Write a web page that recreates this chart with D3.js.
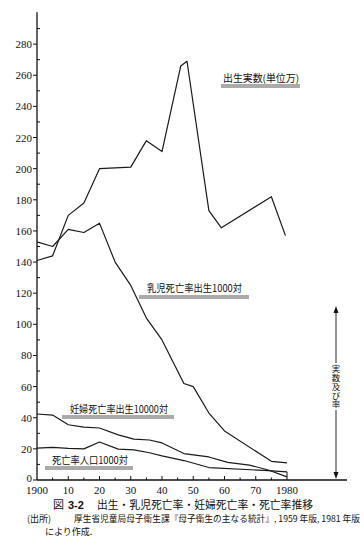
<!DOCTYPE html>
<html lang="ja">
<head>
<meta charset="utf-8">
<script src="https://cdn.jsdelivr.net/npm/d3@7"></script>
<style>
  body { margin: 0; background: #fff; }
  .num { font-family: "Liberation Serif", "DejaVu Serif", serif; font-size: 11px; fill: #111; }
  .jp { font-family: "Noto Sans CJK JP", sans-serif; fill: #111; }
  .series { fill: none; stroke: #1a1a1a; stroke-width: 1.2px; stroke-linejoin: round; }
</style>
</head>
<body>
<div id="chart"></div>
<script>
// values
var birthYears  = [1900, 1905, 1910, 1915, 1920, 1930, 1935, 1940, 1946, 1948, 1955, 1959, 1975, 1979.5];
var birthValues = [141, 144, 170, 178, 200, 201, 218, 211, 266, 269, 173, 162, 182, 157];

var infantYears  = [1900, 1905, 1910, 1915, 1920, 1925, 1930, 1935, 1940, 1947, 1950, 1955, 1960, 1975, 1980];
var infantValues = [153, 150, 161, 159, 165, 140, 125, 104, 90, 62, 60, 43, 31.5, 12, 11];

var maternalYears  = [1900, 1905, 1910, 1915, 1920, 1926, 1931, 1936, 1940, 1947, 1955, 1961, 1968, 1974, 1980];
var maternalValues = [42.4, 41.7, 35.5, 34, 33.4, 29, 26.3, 25.7, 23.8, 17, 14.8, 11.3, 9.6, 6.4, 2];

var deathYears  = [1900, 1905, 1910, 1915, 1920, 1926, 1931, 1936, 1940, 1947, 1955, 1974, 1980];
var deathValues = [20.5, 21, 20.3, 20, 24.4, 19.8, 19.3, 17.5, 15.5, 12.5, 8, 6, 5.2];

var yTicks = d3.range(0, 281, 20);
var xTicks = [1900, 1910, 1920, 1930, 1940, 1950, 1960, 1970, 1980];
var xTickLabels = ["1900", "10", "20", "30", "40", "50", "60", "70", "1980"];

var seriesLabels = ["出生実数(単位万)", "乳児死亡率出生1000対", "妊婦死亡率出生10000対", "死亡率人口1000対"];
var axisLabel = "実数及び率";
var captionNo = "3-2";
var captionText = "出生・乳児死亡率・妊婦死亡率・死亡率推移";
var sourceLine1 = "厚生省児童局母子衛生課『母子衛生の主なる統計』, 1959 年版, 1981 年版";
var sourceLine2 = "により作成.";

var width = 364, height = 547;

var svg = d3.select("#chart").append("svg")
    .attr("width", width)
    .attr("height", height);

svg.append("rect").attr("width", width).attr("height", height).attr("fill", "#fff");

var x = d3.scaleLinear().domain([1900, 1980]).range([37, 287]);
var y = d3.scaleLinear().domain([0, 300]).range([480, 13]);

// y axis
svg.append("line")
    .attr("x1", x(1900)).attr("x2", x(1900))
    .attr("y1", y(0)).attr("y2", y(300.5))
    .attr("stroke", "#111").attr("stroke-width", 1.3);

svg.selectAll(".ymajor").data(yTicks).enter().append("line")
    .attr("x1", x(1900) - 4).attr("x2", x(1900))
    .attr("y1", function(d) { return y(d); })
    .attr("y2", function(d) { return y(d); })
    .attr("stroke", "#111");

svg.selectAll(".yminor").data(d3.range(10, 300, 20)).enter().append("line")
    .attr("x1", x(1900)).attr("x2", x(1900) + 3)
    .attr("y1", function(d) { return y(d); })
    .attr("y2", function(d) { return y(d); })
    .attr("stroke", "#111");

svg.selectAll(".ylab").data(yTicks).enter().append("text")
    .attr("class", "num")
    .attr("x", x(1900) - 5)
    .attr("y", function(d) { return d === 0 ? y(d) + 2 : y(d) + 4; })
    .attr("text-anchor", "end")
    .text(function(d) { return d; });

// x axis
svg.append("line")
    .attr("x1", x(1900)).attr("x2", 347)
    .attr("y1", y(0)).attr("y2", y(0))
    .attr("stroke", "#111").attr("stroke-width", 1.3);

svg.selectAll(".xminor").data(d3.range(1905, 1980, 5)).enter().append("line")
    .attr("x1", function(d) { return x(d); })
    .attr("x2", function(d) { return x(d); })
    .attr("y1", y(0))
    .attr("y2", function(d) { return y(0) - (d % 10 === 0 ? 4 : 2.5); })
    .attr("stroke", "#111");

svg.append("line")
    .attr("x1", x(1980)).attr("x2", x(1980))
    .attr("y1", y(0)).attr("y2", y(0) - 8)
    .attr("stroke", "#111");

svg.selectAll(".xlab").data(xTicks).enter().append("text")
    .attr("class", "num")
    .attr("x", function(d) { return x(d); })
    .attr("y", 493.5)
    .attr("font-size", 10.5)
    .attr("text-anchor", "middle")
    .text(function(d, i) { return xTickLabels[i]; });

// the four series
var line = d3.line()
    .x(function(d) { return x(d[0]); })
    .y(function(d) { return y(d[1]); });

function pairs(xs, vs) { return xs.map(function(v, i) { return [v, vs[i]]; }); }

[[birthYears, birthValues], [infantYears, infantValues],
 [maternalYears, maternalValues], [deathYears, deathValues]].forEach(function(s) {
    svg.append("path").attr("class", "series").attr("d", line(pairs(s[0], s[1])));
});

// labels with double underline
var labelPos = [
    {x: 223, y: 82, len: 76, u1: 221, u2: 300, uy: 85},
    {x: 147, y: 292, len: 95, u1: 139, u2: 249, uy: 296},
    {x: 70, y: 413, len: 98, u1: 62, u2: 174, uy: 416},
    {x: 52, y: 464, len: 76, u1: 45, u2: 133, uy: 467}
];
labelPos.forEach(function(p, i) {
    svg.append("text")
        .attr("class", "jp")
        .attr("x", p.x).attr("y", p.y)
        .attr("font-size", 10)
        .attr("textLength", p.len)
        .attr("lengthAdjust", "spacingAndGlyphs")
        .text(seriesLabels[i]);
    [0, 2].forEach(function(off) {
        svg.append("line")
            .attr("x1", p.u1).attr("x2", p.u2)
            .attr("y1", p.uy + off).attr("y2", p.uy + off)
            .attr("stroke", "#444").attr("stroke-width", 0.9);
    });
});

// vertical double arrow with label
var ax = 336;
svg.append("line").attr("x1", ax).attr("x2", ax).attr("y1", 310).attr("y2", 363)
    .attr("stroke", "#111").attr("stroke-width", 0.9);
svg.append("line").attr("x1", ax).attr("x2", ax).attr("y1", 410).attr("y2", 475)
    .attr("stroke", "#111").attr("stroke-width", 0.9);
svg.append("path").attr("d", "M" + ax + ",306 l-2.5,7 l5,0 z").attr("fill", "#111");
svg.append("path").attr("d", "M" + ax + ",479 l-2.5,-7 l5,0 z").attr("fill", "#111");
svg.append("text")
    .attr("class", "jp")
    .attr("x", ax).attr("y", 365)
    .attr("font-size", 8.5)
    .style("writing-mode", "vertical-rl")
    .style("text-orientation", "upright")
    .style("letter-spacing", "0.2px")
    .text(axisLabel);

// caption
var cap = svg.append("text").attr("class", "jp").attr("y", 508.5).attr("font-size", 11);
cap.append("tspan").attr("x", 53).text("図");
cap.append("tspan").attr("x", 68).attr("font-weight", "bold")
    .attr("font-family", "Liberation Sans, sans-serif").text(captionNo);
cap.append("tspan").attr("x", 97).attr("textLength", 216).attr("lengthAdjust", "spacingAndGlyphs")
    .text(captionText);

svg.append("text").attr("class", "jp")
    .attr("x", 27).attr("y", 521.5).attr("font-size", 9)
    .text("(出所)");
svg.append("text").attr("class", "jp")
    .attr("x", 74).attr("y", 521.5).attr("font-size", 8.6)
    .attr("textLength", 286).attr("lengthAdjust", "spacingAndGlyphs")
    .text(sourceLine1);
svg.append("text").attr("class", "jp")
    .attr("x", 45).attr("y", 535).attr("font-size", 9)
    .text(sourceLine2);
</script>
</body>
</html>
